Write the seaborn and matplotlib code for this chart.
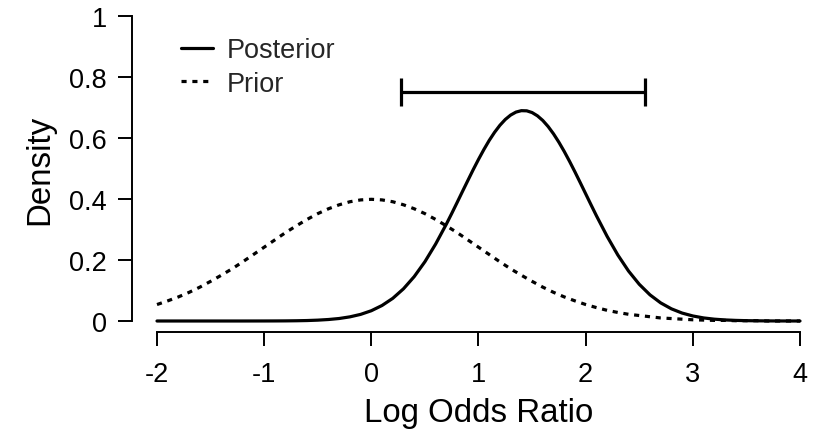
import matplotlib
matplotlib.use("Agg")
import matplotlib.pyplot as plt
import seaborn as sns
import pandas as pd
from matplotlib.lines import Line2D

# ---- data ----
prior_x = [round(-2.0 + 0.1 * i, 1) for i in range(61)]
prior = [0.054, 0.066, 0.079, 0.094, 0.111, 0.130, 0.150, 0.171, 0.194, 0.218,
         0.242, 0.266, 0.290, 0.312, 0.333, 0.352, 0.368, 0.381, 0.391, 0.397,
         0.399, 0.397, 0.391, 0.381, 0.368, 0.352, 0.333, 0.312, 0.290, 0.266,
         0.242, 0.218, 0.194, 0.171, 0.150, 0.130, 0.111, 0.094, 0.079, 0.066,
         0.054, 0.044, 0.035, 0.028, 0.022, 0.018, 0.014, 0.010, 0.008, 0.006,
         0.004, 0.003, 0.002, 0.002, 0.001, 0.001, 0.001, 0.000, 0.000, 0.000,
         0.000]
posterior_x = [-2.0, -1.5, -1.2, -1.0, -0.9, -0.8, -0.7, -0.6, -0.5, -0.4, -0.3,
               -0.2, -0.1, 0.0, 0.1, 0.2, 0.3, 0.4, 0.5, 0.6, 0.7, 0.75, 0.8,
               0.85, 0.9, 0.95, 1.0, 1.05, 1.1, 1.15, 1.2, 1.25, 1.3, 1.35, 1.4,
               1.45, 1.5, 1.55, 1.6, 1.65, 1.7, 1.75, 1.8, 1.85, 1.9, 1.95, 2.0,
               2.05, 2.1, 2.2, 2.3, 2.4, 2.5, 2.6, 2.7, 2.8, 2.9, 3.0, 3.1, 3.2,
               3.3, 3.4, 3.5, 3.6, 3.7, 3.8, 4.0]
posterior = [0.0, 0.0, 0.0, 0.0001, 0.0002, 0.0004, 0.0008, 0.0015, 0.0028, 0.0049,
             0.0082, 0.0136, 0.0217, 0.0337, 0.0509, 0.0743, 0.1056, 0.1455, 0.1944,
             0.2523, 0.3176, 0.3524, 0.3882, 0.4244, 0.4602, 0.4958, 0.5298, 0.5621,
             0.5921, 0.6187, 0.6418, 0.6608, 0.6752, 0.6850, 0.6896, 0.6891, 0.6834,
             0.6727, 0.6574, 0.6375, 0.6136, 0.5862, 0.5559, 0.5232, 0.4888, 0.4532,
             0.4171, 0.3810, 0.3454, 0.2776, 0.2165, 0.1638, 0.1204, 0.0858, 0.0594,
             0.0399, 0.0260, 0.0165, 0.0101, 0.0060, 0.0035, 0.0020, 0.0011, 0.0006,
             0.0003, 0.0001, 0.0]
ci_lower = 0.28
ci_upper = 2.55
ci_height = 0.75
x_ticks = [-2, -1, 0, 1, 2, 3, 4]
x_ticklabels = ["-2", "-1", "0", "1", "2", "3", "4"]
y_ticks = [0, 0.2, 0.4, 0.6, 0.8, 1]
y_ticklabels = ["0", "0.2", "0.4", "0.6", "0.8", "1"]

df = pd.DataFrame({
    "x": posterior_x + prior_x,
    "density": posterior + prior,
    "dist": ["Posterior"] * len(posterior_x) + ["Prior"] * len(prior_x),
})

sns.set_theme(style="ticks")
plt.rcParams["font.family"] = ["Liberation Sans", "DejaVu Sans"]

fig = plt.figure(figsize=(8.2, 4.31), dpi=100)
ax = fig.add_axes([157 / 820, 1 - 322 / 431, (800 - 157) / 820, (322 - 17) / 431])

LW = 2.3
DASH = (1.6, 1.8)
sns.lineplot(data=df, x="x", y="density", style="dist",
             dashes={"Posterior": "", "Prior": DASH},
             color="black", linewidth=LW, ax=ax, legend=False,
             estimator=None, sort=False)
for ln in ax.lines:
    ln.set_clip_on(False)

mid = (ci_lower + ci_upper) / 2
half = (ci_upper - ci_lower) / 2
ax.errorbar([mid], [ci_height], xerr=[half], fmt="none", ecolor="black",
            elinewidth=LW, capsize=10, capthick=LW)

ax.set_xlim(-2, 4)
ax.set_ylim(0, 1)
ax.set_xticks(x_ticks)
ax.set_xticklabels(x_ticklabels)
ax.set_yticks(y_ticks)
ax.set_yticklabels(y_ticklabels)
ax.tick_params(axis="both", labelsize=19.5, length=10, width=1.4, color="black",
               labelcolor="black", direction="out")
ax.tick_params(axis="x", pad=11)
ax.tick_params(axis="y", pad=8)

for side in ["top", "right"]:
    ax.spines[side].set_visible(False)
ax.spines["left"].set_position(("outward", 18))
ax.spines["bottom"].set_position(("outward", 8))
ax.spines["left"].set_bounds(0, 1)
ax.spines["bottom"].set_bounds(-2, 4)
for side in ["left", "bottom"]:
    ax.spines[side].set_linewidth(1.4)
    ax.spines[side].set_color("black")

ax.set_xlabel("Log Odds Ratio", fontsize=23.8, color="black", labelpad=7)
ax.set_ylabel("Density", fontsize=23.8, color="black", labelpad=10)

handles = [Line2D([], [], color="black", lw=LW),
           Line2D([], [], color="black", lw=LW, dashes=DASH)]
ax.legend(handles, ["Posterior", "Prior"], loc="upper left",
          bbox_to_anchor=(181 / 820, 1 - 38 / 431), bbox_transform=fig.transFigure,
          frameon=False, fontsize=19.5, handlelength=1.2, handletextpad=0.5,
          labelspacing=0.28, borderpad=0, borderaxespad=0)

fig.savefig("out.png", dpi=100)
